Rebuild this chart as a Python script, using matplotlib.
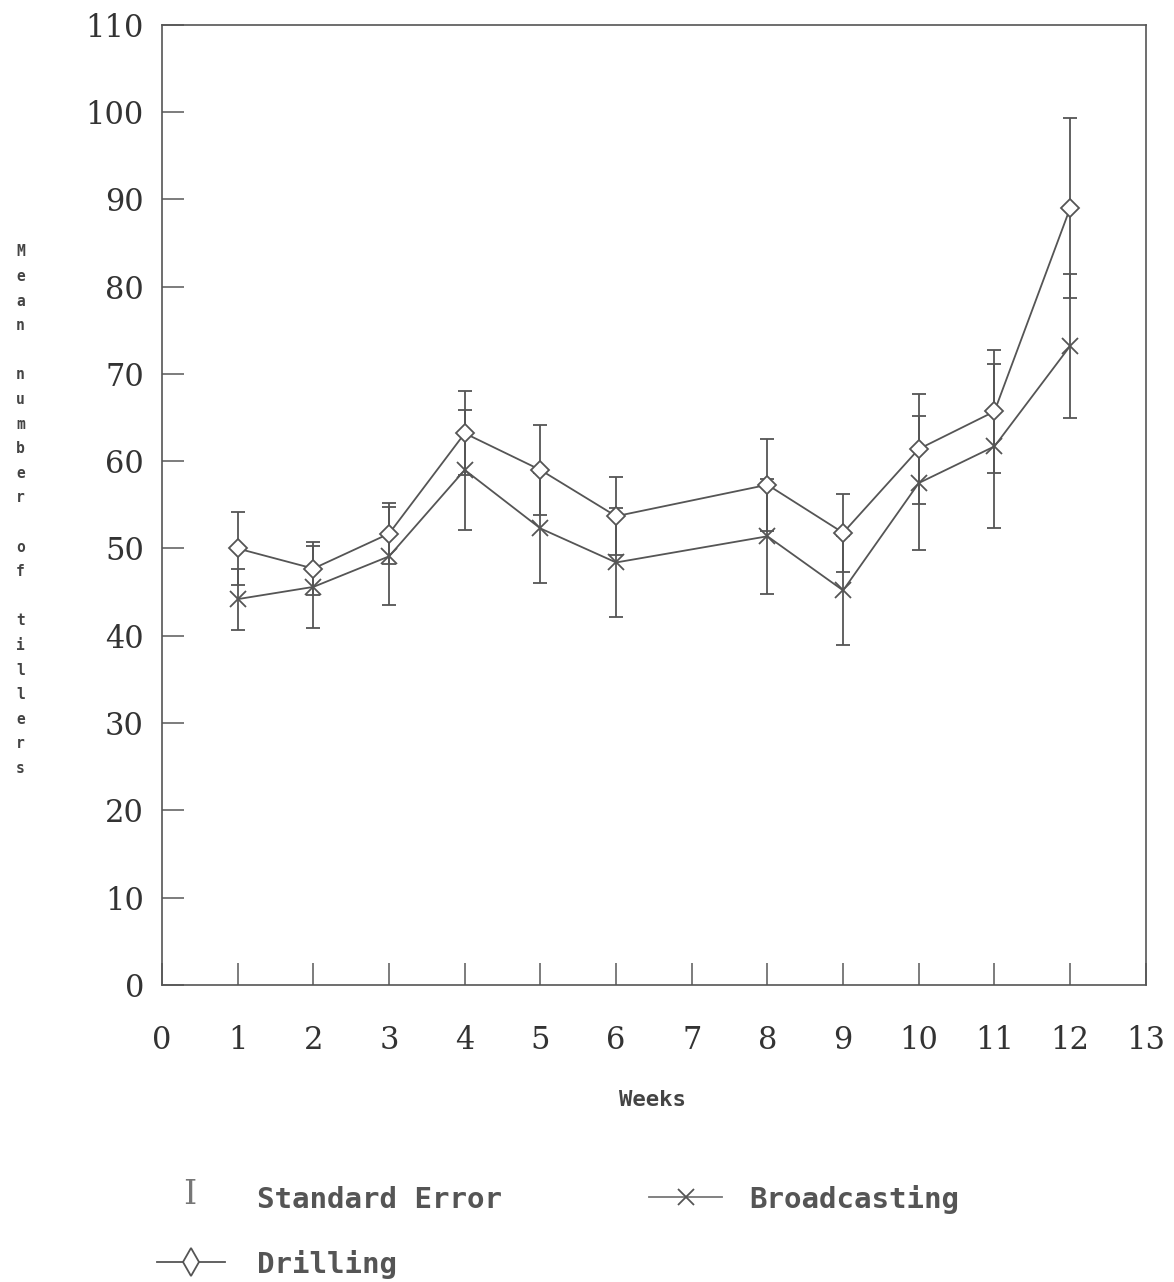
import matplotlib
matplotlib.use("Agg")
import matplotlib.pyplot as plt
from matplotlib.lines import Line2D

# weeks (week 7 was not sampled)
weeks = [1, 2, 3, 4, 5, 6, 8, 9, 10, 11, 12]

# mean number of tillers
drilling = [50.0, 47.7, 51.7, 63.2, 59.0, 53.7, 57.3, 51.8, 61.4, 65.7, 89.0]
broadcasting = [44.2, 45.6, 49.1, 59.0, 52.3, 48.4, 51.4, 45.2, 57.5, 61.7, 73.2]

# standard errors
drilling_se = [4.2, 3.0, 3.5, 4.8, 5.2, 4.5, 5.3, 4.5, 6.3, 7.0, 10.3]
broadcasting_se = [3.5, 4.7, 5.6, 6.9, 6.3, 6.2, 6.6, 6.2, 7.7, 9.4, 8.3]

line_col = "#555555"

fig = plt.figure(figsize=(11.74, 12.82), dpi=100)
ax = fig.add_axes([0.138, 0.2317, 0.838, 0.749])

ax.errorbar(weeks, broadcasting, yerr=broadcasting_se, color=line_col, lw=1.3,
            marker="x", ms=12, mew=1.3, capsize=5, elinewidth=1.3, capthick=1.5)
ax.errorbar(weeks, drilling, yerr=drilling_se, color=line_col, lw=1.3,
            marker="D", ms=9.5, mfc="white", mew=1.3, capsize=5, elinewidth=1.3,
            capthick=1.5)

ax.set_xlim(0, 13)
ax.set_ylim(0, 110)
ax.set_xticks(range(0, 14))
ax.set_yticks(range(0, 111, 10))
ax.tick_params(direction="in", length=16, width=1.2, color="#666666",
               labelsize=22, labelcolor="#333333")
ax.tick_params(axis="x", pad=29)
ax.tick_params(axis="y", pad=13)
for lab in ax.get_xticklabels() + ax.get_yticklabels():
    lab.set_family("DejaVu Serif")
for s in ax.spines.values():
    s.set_color("#555555")
    s.set_linewidth(1.2)

# vertical y label, one letter per line
ylab = "\n".join("Mean number of tillers")
fig.text(0.0175, 0.602, ylab, ha="center", va="center", family="DejaVu Sans Mono",
         fontweight="bold", fontsize=10.5, color="#444444", linespacing=1.8)

fig.text(0.556, 0.142, "Weeks", ha="center", va="center", family="DejaVu Sans Mono",
         fontweight="bold", fontsize=16, color="#444444")

# legend below the plot
leg_font = dict(family="DejaVu Sans Mono", fontweight="bold", fontsize=21,
                color="#555555", va="center", ha="left")
fig.text(0.162, 0.068, "I", family="DejaVu Serif", fontsize=24, color="#777777",
         ha="center", va="center")
fig.text(0.219, 0.064, "Standard Error", **leg_font)
fig.add_artist(Line2D([0.553, 0.615], [0.066, 0.066], color="#777777", lw=1.3,
                      transform=fig.transFigure))
fig.add_artist(Line2D([0.584], [0.066], marker="x", ms=12, mew=1.3, color="#555555",
                      transform=fig.transFigure))
fig.text(0.638, 0.064, "Broadcasting", **leg_font)
fig.add_artist(Line2D([0.134, 0.192], [0.0155, 0.0155], color="#555555", lw=1.3,
                      transform=fig.transFigure))
fig.add_artist(Line2D([0.163], [0.0155], marker="d", ms=14, mfc="white", mew=1.3,
                      color="#555555", transform=fig.transFigure))
fig.text(0.219, 0.014, "Drilling", **leg_font)

fig.savefig("out.png", dpi=100, facecolor="white")
